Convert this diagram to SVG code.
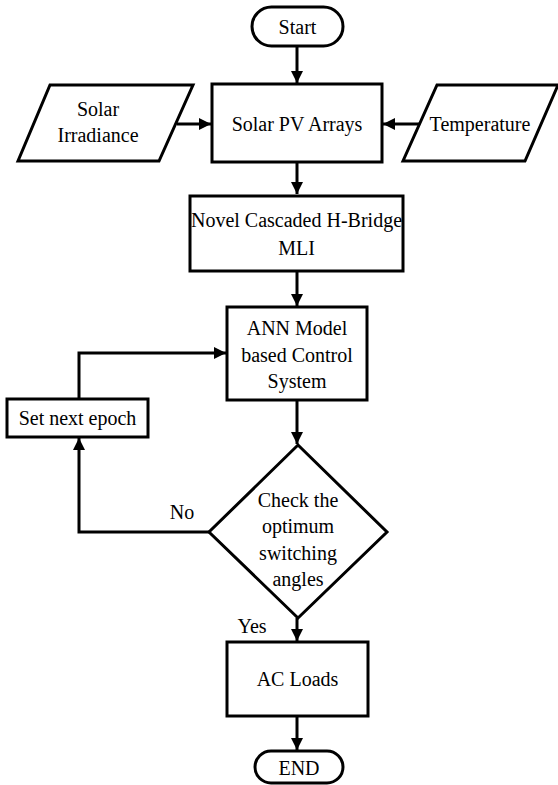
<svg xmlns="http://www.w3.org/2000/svg" width="558" height="785" viewBox="0 0 558 785">
  <defs>
    <marker id="arrow" viewBox="0 0 10 10" refX="10" refY="5" markerWidth="4" markerHeight="4" markerUnits="strokeWidth" orient="auto">
      <path d="M0,0 L10,5 L0,10 z" fill="#000"/>
    </marker>
    <style>
      .shape { fill: #fff; stroke: #000; stroke-width: 3; }
      .edge { fill: none; stroke: #000; stroke-width: 3; marker-end: url(#arrow); }
      text { font-family: "Liberation Serif", "Times New Roman", serif; font-size: 20px; fill: #000; text-anchor: middle; }
    </style>
  </defs>
  <rect width="558" height="785" fill="#fff"/>

  <g id="connectors">
    <line class="edge" x1="297" y1="46" x2="297" y2="83"/>
    <line class="edge" x1="177" y1="124" x2="211" y2="124"/>
    <line class="edge" x1="420" y1="124" x2="383" y2="124"/>
    <line class="edge" x1="297" y1="162" x2="297" y2="194"/>
    <line class="edge" x1="297" y1="271" x2="297" y2="306"/>
    <line class="edge" x1="297" y1="400" x2="297" y2="444"/>
    <polyline class="edge" points="79,399 79,353 226,353"/>
    <polyline class="edge" points="209,532 79,532 79,438"/>
    <line class="edge" x1="297" y1="618" x2="297" y2="641"/>
    <line class="edge" x1="297" y1="716" x2="297" y2="750"/>
  </g>

  <g id="start">
    <rect class="shape" x="252" y="7" width="91" height="39" rx="19.5"/>
    <text x="297.5" y="34">Start</text>
  </g>

  <g id="solar-irradiance">
    <polygon class="shape" points="50,85 193,85 159,161 18,161"/>
    <text x="98" y="116">Solar</text>
    <text x="98" y="142">Irradiance</text>
  </g>

  <g id="solar-pv">
    <rect class="shape" x="212" y="84" width="170" height="78"/>
    <text x="297" y="131">Solar PV Arrays</text>
  </g>

  <g id="temperature">
    <polygon class="shape" points="437,85 558,85 525,161 403,161"/>
    <text x="480" y="131">Temperature</text>
  </g>

  <g id="mli">
    <rect class="shape" x="190" y="196" width="213" height="75"/>
    <text x="296.5" y="227">Novel Cascaded H-Bridge</text>
    <text x="296.5" y="255">MLI</text>
  </g>

  <g id="ann">
    <rect class="shape" x="227" y="307" width="140" height="93"/>
    <text x="297" y="335">ANN Model</text>
    <text x="297" y="362">based Control</text>
    <text x="297" y="388">System</text>
  </g>

  <g id="next-epoch">
    <rect class="shape" x="7" y="399" width="141" height="38"/>
    <text x="77.5" y="425">Set next epoch</text>
  </g>

  <g id="check">
    <polygon class="shape" points="298,445 387,532 298,618 209,532"/>
    <text x="298" y="507">Check the</text>
    <text x="298" y="533">optimum</text>
    <text x="298" y="560">switching</text>
    <text x="298" y="586">angles</text>
  </g>

  <text x="182" y="519">No</text>
  <text x="252" y="633">Yes</text>

  <g id="ac-loads">
    <rect class="shape" x="227" y="642" width="141" height="74"/>
    <text x="297.5" y="686">AC Loads</text>
  </g>

  <g id="end">
    <rect class="shape" x="255" y="751" width="88" height="32" rx="16"/>
    <text x="299" y="775">END</text>
  </g>
</svg>
